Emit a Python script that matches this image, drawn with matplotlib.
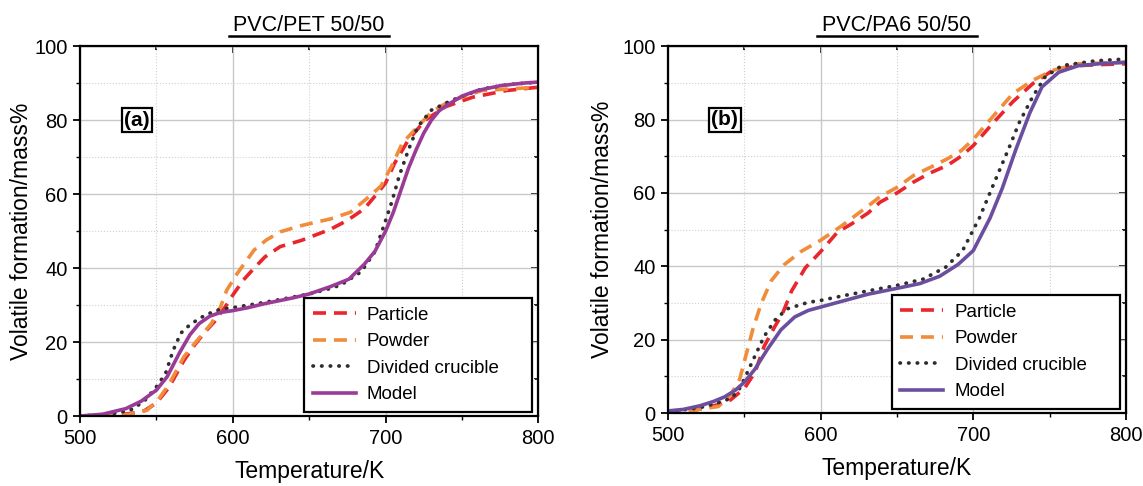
import matplotlib.pyplot as plt
from matplotlib.lines import Line2D

# PVC/PET 50/50 (panel a)
T_a_model = [500, 515, 530, 540, 550, 557, 565, 572, 578, 585, 592, 600, 610, 620, 640, 650, 664, 676, 686, 693, 700, 705, 710, 715, 720, 725, 730, 735, 740, 750, 760, 775, 790, 800]
V_a_model = [0, 0.5, 2, 4, 7, 10.6, 17, 22, 25, 27, 28, 28.5, 29.3, 30.3, 32, 33, 35, 37, 41, 44.5, 50, 55, 61, 67, 72, 76.5, 80, 82.5, 84, 86.5, 88, 89.3, 90, 90.3]
T_a_div = [500, 520, 533, 542, 550, 556, 561, 566, 570, 578, 585, 592, 600, 615, 631, 650, 664, 671, 684, 693, 699, 704, 709, 715, 721, 730, 743, 763, 780, 800]
V_a_div = [0, 0.5, 1.6, 4, 7.9, 11.5, 17.8, 22.4, 24, 26.4, 27.8, 28.9, 29.3, 30.3, 31.5, 33, 34.5, 35.5, 39, 44.4, 51.6, 57.8, 65, 72, 78.2, 82.7, 85.3, 88.4, 89.6, 90.3]
T_a_part = [500, 525, 535, 542, 550, 558, 568, 575, 582, 588, 595, 600, 607, 614, 621, 631, 645, 664, 675, 686, 695, 700, 706, 715, 726, 739, 757, 779, 800]
V_a_part = [0, 0.3, 0.8, 1.4, 3.5, 7.6, 15, 19.2, 22.8, 25.5, 29.5, 32.7, 36.8, 40, 43, 45.8, 47.5, 50.5, 52.9, 56, 60.4, 63, 68.4, 74.7, 80, 83.6, 86.2, 88, 88.9]
T_a_pow = [500, 530, 537, 544, 551, 558, 568, 575, 586, 592, 596, 603, 614, 622, 631, 645, 664, 677, 690, 697, 704, 711, 721, 730, 741, 763, 800]
V_a_pow = [0, 0.3, 0.8, 1.6, 4.3, 8.4, 16, 19.6, 25, 29.5, 34, 38.6, 44.9, 47.6, 49.8, 51.5, 53.3, 55.1, 59.6, 62.2, 67.6, 73.8, 78.2, 82.2, 84.9, 88, 88.9]

# PVC/PA6 50/50 (panel b)
T_b_model = [500, 510, 521, 530, 537, 544, 550, 557, 565, 574, 583, 592, 600, 615, 631, 650, 665, 678, 690, 700, 711, 719, 728, 737, 745, 756, 769, 785, 800]
V_b_model = [0.6, 1, 2, 3.2, 4.4, 6.2, 8.4, 12, 17.3, 22.7, 26.2, 28, 28.9, 30.6, 32.4, 34, 35.3, 37.3, 40.5, 44.3, 53.2, 61.3, 72, 81.8, 88.9, 92.9, 94.7, 95.3, 95.6]
T_b_div = [500, 521, 532, 541, 546, 550, 557, 563, 570, 578, 592, 600, 615, 631, 650, 667, 682, 693, 704, 713, 724, 730, 739, 747, 758, 780, 800]
V_b_div = [0.3, 1.5, 2.7, 4, 6, 9.3, 15.6, 20.9, 25.3, 28.4, 30.2, 30.7, 32, 33.3, 34.8, 36.5, 39.8, 44.3, 53.2, 62.1, 72.9, 79.1, 86.3, 91.6, 94.7, 96, 96.5]
T_b_part = [500, 520, 532, 541, 550, 557, 563, 570, 575, 581, 590, 600, 611, 620, 631, 639, 650, 661, 672, 683, 692, 700, 713, 726, 739, 752, 769, 785, 800]
V_b_part = [0, 1, 2.2, 3.6, 6.7, 11.1, 18.2, 23.6, 27.1, 33.3, 39.6, 44, 49.3, 51.5, 54.5, 57.5, 60, 63, 65.5, 67.5, 70, 72.9, 79.1, 84.9, 89.8, 93.4, 94.7, 95, 95.2]
T_b_pow = [500, 520, 533, 541, 547, 551, 555.5, 561, 567.5, 576, 587, 600, 614, 631, 639, 650, 661, 672, 683, 692, 700, 713, 726, 739, 752, 769, 800]
V_b_pow = [0, 1, 1.8, 4.9, 9.3, 15.6, 22.7, 29.8, 36, 40.4, 44, 47.1, 51.1, 56.4, 59, 61.5, 64.8, 67, 69.3, 71.5, 74.6, 80.9, 87.1, 90.7, 93.4, 95.2, 95.6]

plt.rcParams['font.family'] = ['Liberation Sans', 'DejaVu Sans']

fig = plt.figure(figsize=(11.43, 4.86), dpi=100)
ax_a = fig.add_axes([0.070, 0.144, 0.401, 0.761])
ax_b = fig.add_axes([0.5844, 0.150, 0.4007, 0.755])


def draw_panel(ax, data, model_color, title, tag, ylabelpad):
    (tp, vp), (tw, vw), (td, vd), (tm, vm) = data
    ax.plot(tp, vp, color='#e8262c', ls=(0, (3.6, 2.2)), lw=2.6, label='Particle')
    ax.plot(tw, vw, color='#f08c3a', ls=(0, (3.6, 2.2)), lw=2.6, label='Powder')
    ax.plot(td, vd, color='#2e2e2e', ls=(0, (0.1, 2.2)), lw=2.7,
            dash_capstyle='round', label='Divided crucible')
    ax.plot(tm, vm, color=model_color, ls='-', lw=2.6, label='Model')

    ax.set_xlim(500, 800)
    ax.set_ylim(0, 100)
    ax.set_xticks([500, 600, 700, 800])
    ax.set_xticks([550, 650, 750], minor=True)
    ax.set_yticks([0, 20, 40, 60, 80, 100])
    ax.set_yticks([10, 30, 50, 70, 90], minor=True)
    ax.grid(True, which='major', color='#c8c8c8', lw=1.0)
    ax.grid(True, which='minor', color='#d0d0d0', lw=0.8, ls=':')
    ax.set_axisbelow(True)
    ax.tick_params(which='both', direction='out', labelsize=14.5, pad=4)
    ax.tick_params(which='major', length=5, width=1.3)
    ax.tick_params(which='minor', length=3, width=1.0)
    for s in ax.spines.values():
        s.set_linewidth(1.6)

    # inward ticks on the top and right frame
    top = ax.secondary_xaxis('top')
    top.set_xticks([500, 600, 700, 800])
    top.set_xticks([550, 650, 750], minor=True)
    top.tick_params(which='both', direction='in', labeltop=False, width=1.2)
    top.tick_params(which='major', length=5)
    top.tick_params(which='minor', length=3)
    right = ax.secondary_yaxis('right')
    right.set_yticks([0, 20, 40, 60, 80, 100])
    right.set_yticks([10, 30, 50, 70, 90], minor=True)
    right.tick_params(which='both', direction='in', labelright=False, width=1.2)
    right.tick_params(which='major', length=5)
    right.tick_params(which='minor', length=3)

    ax.set_xlabel('Temperature/K', fontsize=16.5, labelpad=9)
    ax.set_ylabel('Volatile formation/mass%', fontsize=16.5, labelpad=ylabelpad)

    ax.text(0.5, 1.04, title, transform=ax.transAxes, ha='center', va='baseline', fontsize=15.5)
    ax.add_line(Line2D([0.325, 0.675], [1.027, 1.027], transform=ax.transAxes,
                       color='black', lw=1.8, clip_on=False))

    ax.text(0.124, 0.80, tag, transform=ax.transAxes, fontsize=15, fontweight='bold',
            ha='center', va='center',
            bbox=dict(boxstyle='square,pad=0.12', fc='white', ec='black', lw=1.6))

    leg = ax.legend(loc='lower left', bbox_to_anchor=(0.489, 0.012, 0.498, 0.32),
                    mode='expand', borderaxespad=0,
                    fontsize=13.5, frameon=True, fancybox=False, edgecolor='black',
                    framealpha=1, handlelength=2.3, handletextpad=0.6,
                    borderpad=0.45, labelspacing=0.5)
    leg.get_frame().set_linewidth(1.6)


draw_panel(ax_a, [(T_a_part, V_a_part), (T_a_pow, V_a_pow), (T_a_div, V_a_div), (T_a_model, V_a_model)],
           '#9a3b97', 'PVC/PET 50/50', '(a)', 1)
draw_panel(ax_b, [(T_b_part, V_b_part), (T_b_pow, V_b_pow), (T_b_div, V_b_div), (T_b_model, V_b_model)],
           '#6b4f9e', 'PVC/PA6 50/50', '(b)', 6)

fig.savefig('out.png', dpi=100)
